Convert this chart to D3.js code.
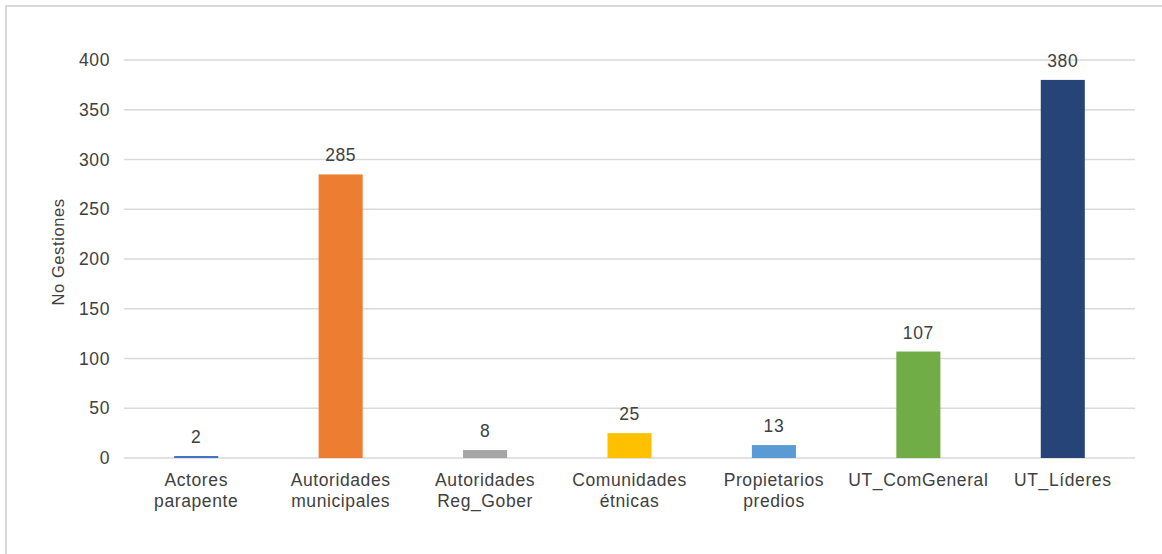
<!DOCTYPE html>
<html><head><meta charset="utf-8">
<script src="https://cdn.jsdelivr.net/npm/d3@7"></script>
<style>body{margin:0;background:#fff}svg{display:block}text{font-family:"Liberation Sans",Arial,sans-serif;fill:#404040;letter-spacing:0.6px}</style>
</head><body><svg id="c" width="1162" height="554"></svg>
<script>
const categories = [["Actores","parapente"],["Autoridades","municipales"],["Autoridades","Reg_Gober"],["Comunidades","étnicas"],["Propietarios","predios"],["UT_ComGeneral"],["UT_Líderes"]];
const values = [2,285,8,25,13,107,380];
const colors = ["#4472C4","#ED7D31","#A5A5A5","#FFC000","#5B9BD5","#70AD47","#264478"];
const yTicks = [0,50,100,150,200,250,300,350,400];
const yTitle = "No Gestiones";

const svg = d3.select("#c");
svg.append("rect").attr("x",6).attr("y",6).attr("width",1162).attr("height",560)
  .attr("fill","#fff").attr("stroke","#d9d9d9").attr("stroke-width",2);

const x = d3.scaleBand().domain(d3.range(categories.length)).range([124,1135]).paddingInner(0.695).paddingOuter(0.3475);
const y = d3.scaleLinear().domain([0,400]).range([458,60]);

const g = svg.append("g");
g.selectAll("line.grid").data(yTicks).join("line")
  .attr("x1",124).attr("x2",1135).attr("y1",d=>y(d)).attr("y2",d=>y(d))
  .attr("stroke","#d9d9d9").attr("stroke-width",1.5);

g.selectAll("text.yt").data(yTicks).join("text")
  .attr("x",110).attr("y",d=>y(d)+6).attr("text-anchor","end").attr("font-size",17.5).text(d=>d);

g.selectAll("rect.bar").data(values).join("rect")
  .attr("x",(d,i)=>x(i)).attr("width",x.bandwidth())
  .attr("y",d=>y(d)).attr("height",d=>y(0)-y(d)).attr("fill",(d,i)=>colors[i]);

g.selectAll("text.lbl").data(values).join("text")
  .attr("x",(d,i)=>x(i)+x.bandwidth()/2).attr("y",d=>y(d)-13)
  .attr("text-anchor","middle").attr("font-size",17.5).text(d=>d);

const cl = g.selectAll("text.cat").data(categories).join("text")
  .attr("text-anchor","middle").attr("font-size",17.5)
  .attr("transform",(d,i)=>`translate(${x(i)+x.bandwidth()/2},486)`);
cl.selectAll("tspan").data(d=>d).join("tspan").attr("x",0).attr("dy",(d,j)=>j?21:0).text(d=>d);

svg.append("text").attr("transform","translate(64,252) rotate(-90)")
  .attr("text-anchor","middle").attr("font-size",16.5).text(yTitle);
</script></body></html>
